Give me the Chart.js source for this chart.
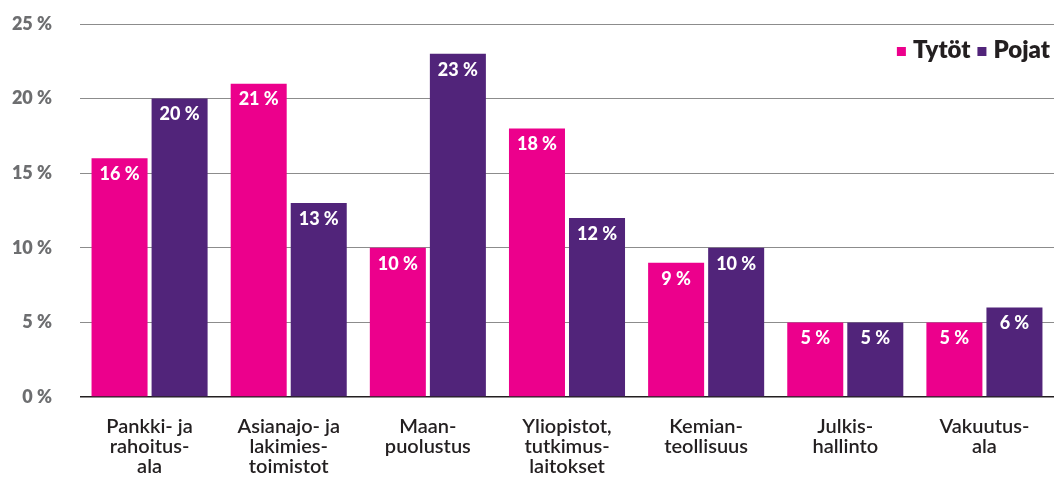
<!DOCTYPE html>
<html>
<head>
<meta charset="utf-8">
<script src="https://cdn.jsdelivr.net/npm/chart.js@4.4.1/dist/chart.umd.min.js"></script>
<style>
  body { margin: 0; background: #ffffff; }
  #wrap { width: 1056px; height: 477px; }
</style>
</head>
<body>
<div id="wrap"><canvas id="barChart" width="1056" height="477"></canvas></div>
<script>
var categories = [
  ["Pankki- ja", "rahoitus-", "ala"],
  ["Asianajo- ja", "lakimies-", "toimistot"],
  ["Maan-", "puolustus"],
  ["Yliopistot,", "tutkimus-", "laitokset"],
  ["Kemian-", "teollisuus"],
  ["Julkis-", "hallinto"],
  ["Vakuutus-", "ala"]
];
var tytot = [16, 21, 10, 18, 9, 5, 5];
var pojat = [20, 13, 23, 12, 10, 5, 6];
var yTicks = [0, 5, 10, 15, 20, 25];

var pink = "#ec008c";
var purple = "#51247a";
var fontFamily = "Lato, 'Open Sans', sans-serif";

// white value labels inside top of each bar
const valueLabels = {
  id: 'valueLabels',
  afterDatasetsDraw: (chart) => {
    const {ctx} = chart;
    ctx.save();
    ctx.fillStyle = '#ffffff';
    ctx.font = '900 18px ' + fontFamily;
    ctx.textAlign = 'center';
    ctx.textBaseline = 'middle';
    chart.data.datasets.forEach((ds, i) => {
      chart.getDatasetMeta(i).data.forEach((bar, j) => {
        ctx.fillText(ds.data[j] + ' %', bar.x, bar.y + 16);
      });
    });
    ctx.restore();
  }
};

// legend drawn inside the plot, top right
const cornerLegend = {
  id: 'cornerLegend',
  afterDraw: (chart) => {
    const {ctx, chartArea} = chart;
    ctx.save();
    ctx.font = '800 24px ' + fontFamily;
    ctx.textBaseline = 'alphabetic';
    var box = 9, gapBox = 7, gapItem = 7;
    var items = chart.data.datasets.map(ds => ({label: ds.label, color: ds.backgroundColor, w: ctx.measureText(ds.label).width}));
    var total = 0;
    items.forEach((it, i) => { total += box + gapBox + it.w + (i > 0 ? gapItem : 0); });
    var x = chartArea.right - 4 - total;
    var base = chartArea.top + 34;
    items.forEach((it) => {
      ctx.fillStyle = it.color;
      ctx.fillRect(x, base - 11, box, box);
      x += box + gapBox;
      ctx.fillStyle = '#231f20';
      ctx.fillText(it.label, x, base);
      x += it.w + gapItem;
    });
    ctx.restore();
  }
};

new Chart(document.getElementById("barChart"), {
  type: "bar",
  data: {
    labels: categories,
    datasets: [
      { label: "Tytöt", data: tytot, backgroundColor: pink, barPercentage: 0.933, categoryPercentage: 0.863 },
      { label: "Pojat", data: pojat, backgroundColor: purple, barPercentage: 0.933, categoryPercentage: 0.863 }
    ]
  },
  options: {
    responsive: false,
    animation: false,
    layout: { padding: { top: 24, right: 2, left: 0, bottom: 0 } },
    plugins: {
      legend: { display: false },
      tooltip: { enabled: false }
    },
    scales: {
      x: {
        afterFit: (s) => { s.height = 80; },
        grid: { display: false, drawTicks: false },
        border: { display: false },
        ticks: {
          padding: 19,
          color: '#231f20',
          maxRotation: 0,
          autoSkip: false,
          font: { family: fontFamily, size: 20, weight: '600', lineHeight: 1.02 }
        }
      },
      y: {
        min: 0,
        max: 25,
        afterFit: (s) => { s.width = 80; s.paddingTop = 0; s.paddingBottom = 0; },
        afterBuildTicks: (s) => { s.ticks = yTicks.map(v => ({value: v})); },
        grid: {
          drawTicks: false,
          color: (c) => c.tick && c.tick.value === 0 ? '#231f20' : '#8c8c8c',
          lineWidth: (c) => c.tick && c.tick.value === 0 ? 1.5 : 1
        },
        border: { display: false },
        ticks: {
          padding: 28,
          color: '#6d6e70',
          font: { family: fontFamily, size: 18, weight: '800' },
          callback: (v) => v + ' %'
        }
      }
    }
  },
  plugins: [valueLabels, cornerLegend]
});
</script>
</body>
</html>
